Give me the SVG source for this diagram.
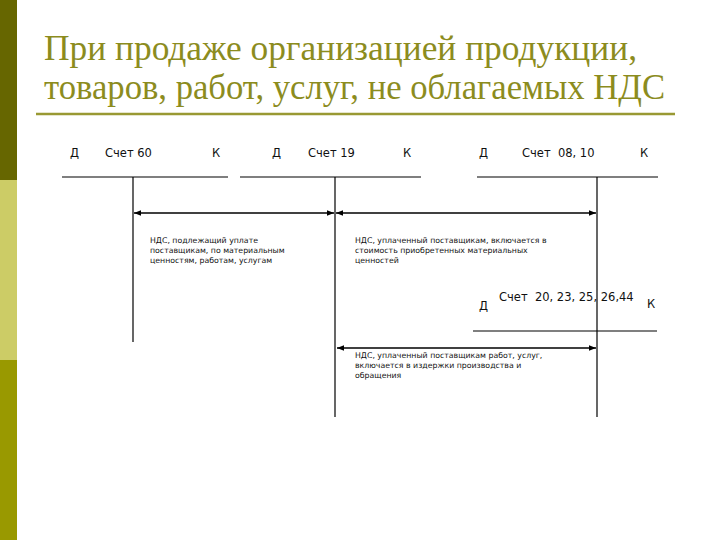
<svg xmlns="http://www.w3.org/2000/svg" width="720" height="540" viewBox="0 0 720 540">
<style>
.title{font-family:"Liberation Serif","Times New Roman",serif;font-size:35px;fill:#8c8c1e}
.hd{font-family:"DejaVu Sans","Liberation Sans",sans-serif;font-size:11.5px;fill:#111}
.ds{font-family:"DejaVu Sans","Liberation Sans",sans-serif;font-size:7.8px;fill:#111}
.ln{stroke:#000;stroke-width:1.2;fill:none}
.ar{stroke:#000;stroke-width:1.3;fill:none;marker-start:url(#ah);marker-end:url(#ah)}
</style>
<defs>
<marker id="ah" viewBox="0 0 10 10" refX="10" refY="5" markerWidth="7" markerHeight="7" markerUnits="userSpaceOnUse" orient="auto-start-reverse">
<path d="M0,1 L10,5 L0,9 Z" fill="#000"/>
</marker>
</defs>
<rect x="0" y="0" width="720" height="540" fill="#ffffff"/>
<g id="sidebar">
<rect x="0" y="0" width="17" height="180" fill="#666600"/>
<rect x="0" y="180" width="17" height="180" fill="#cccc66"/>
<rect x="0" y="360" width="17" height="180" fill="#999900"/>
</g>
<g id="title">
<text class="title" x="44" y="60" textLength="593" lengthAdjust="spacingAndGlyphs">При продаже организацией продукции,</text>
<text class="title" x="44" y="99" textLength="621" lengthAdjust="spacingAndGlyphs">товаров, работ, услуг, не облагаемых НДС</text>
<line x1="36" y1="114" x2="675" y2="114" stroke="#999933" stroke-width="2.5"/>
</g>
<g id="account60">
<text class="hd" x="70" y="157">Д</text>
<text class="hd" x="105" y="157">Счет 60</text>
<text class="hd" x="212" y="157">К</text>
<line class="ln" x1="62" y1="177" x2="228" y2="177"/>
<line class="ln" x1="133" y1="177" x2="133" y2="342"/>
</g>
<g id="account19">
<text class="hd" x="272" y="157">Д</text>
<text class="hd" x="308" y="157">Счет 19</text>
<text class="hd" x="403" y="157">К</text>
<line class="ln" x1="240" y1="177" x2="421" y2="177"/>
<line class="ln" x1="335" y1="177" x2="335" y2="417"/>
</g>
<g id="account0810">
<text class="hd" x="479" y="157">Д</text>
<text class="hd" x="522" y="157" xml:space="preserve">Счет  08, 10</text>
<text class="hd" x="640" y="157">К</text>
<line class="ln" x1="477" y1="177" x2="658" y2="177"/>
<line class="ln" x1="597" y1="177" x2="597" y2="417"/>
</g>
<g id="account20">
<text class="hd" x="479" y="310">Д</text>
<text class="hd" x="499" y="301" xml:space="preserve">Счет  20, 23, 25, 26,44</text>
<text class="hd" x="647" y="308">К</text>
<line class="ln" x1="473" y1="331" x2="657" y2="331"/>
</g>
<g id="connectors">
<line class="ar" x1="134" y1="213" x2="334" y2="213"/>
<line class="ar" x1="336" y1="213" x2="596" y2="213"/>
<line class="ar" x1="337" y1="348" x2="596" y2="348"/>
</g>
<g id="label1">
<text class="ds" x="150" y="243">НДС, подлежащий уплате</text>
<text class="ds" x="150" y="253">поставщикам, по материальным</text>
<text class="ds" x="150" y="263">ценностям, работам, услугам</text>
</g>
<g id="label2">
<text class="ds" x="355" y="243">НДС, уплаченный поставщикам, включается в</text>
<text class="ds" x="355" y="253">стоимость приобретенных материальных</text>
<text class="ds" x="355" y="263">ценностей</text>
</g>
<g id="label3">
<text class="ds" x="355" y="358">НДС, уплаченный поставщикам работ, услуг,</text>
<text class="ds" x="355" y="368">включается в издержки производства и</text>
<text class="ds" x="355" y="378">обращения</text>
</g>
</svg>
